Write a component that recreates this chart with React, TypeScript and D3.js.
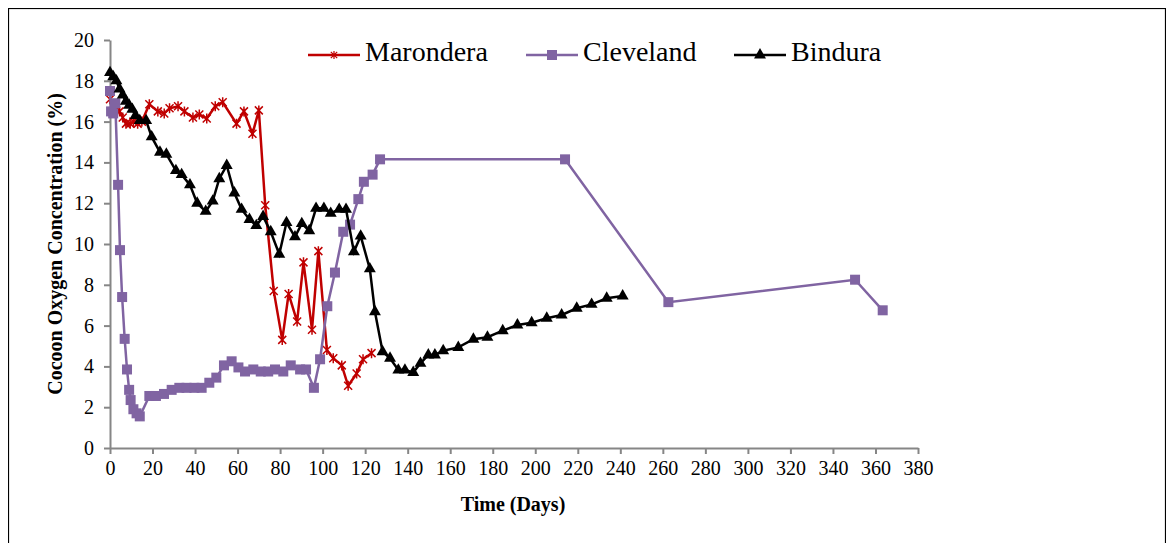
import { useEffect, useRef } from 'react'
import * as d3 from 'd3'

// Marondera
const maroDays = [0, 2, 4.5, 6, 7.5, 9.5, 11, 13, 15, 18.5, 22.5, 25.5, 28, 32, 35, 39, 42, 45.5, 49.5, 53, 59.5, 63, 67, 70, 73, 77, 81, 84, 88, 91, 95, 98, 102, 105, 109, 112, 116, 119, 123]
const maroValues = [17.1, 16.8, 16.5, 16.2, 15.9, 15.9, 16.0, 15.9, 16.0, 16.85, 16.5, 16.4, 16.65, 16.75, 16.5, 16.2, 16.35, 16.15, 16.75, 16.95, 15.9, 16.5, 15.4, 16.55, 11.9, 7.7, 5.3, 7.55, 6.2, 9.1, 5.8, 9.65, 4.8, 4.4, 4.05, 3.05, 3.65, 4.35, 4.65]

// Cleveland
const cleveDays = [0, 0.5, 1.5, 2.5, 3.8, 4.7, 5.7, 6.9, 8, 9, 9.7, 11, 12.5, 14, 18.5, 21.6, 25.4, 29, 32.6, 36, 39.7, 43.1, 46.7, 50, 53.6, 57.2, 60.4, 63.5, 67.4, 70.9, 74.4, 77.6, 81.5, 85, 89.4, 92.2, 95.9, 98.8, 102.2, 105.8, 109.7, 112.9, 116.8, 119.4, 123.5, 127, 214, 262.6, 350.4, 363.4]
const cleveValues = [17.5, 16.5, 16.4, 16.9, 12.9, 9.7, 7.4, 5.35, 3.85, 2.85, 2.35, 1.9, 1.7, 1.55, 2.55, 2.55, 2.65, 2.85, 2.95, 2.95, 2.95, 2.95, 3.2, 3.45, 4.05, 4.25, 3.95, 3.75, 3.85, 3.75, 3.75, 3.85, 3.75, 4.05, 3.85, 3.85, 2.95, 4.35, 6.95, 8.6, 10.6, 10.95, 12.2, 13.05, 13.4, 14.15, 14.15, 7.15, 8.25, 6.75]

// Bindura
const binDays = [0, 1.5, 3, 4.5, 6, 7.5, 9, 10.5, 12, 14, 17, 19.6, 23.5, 26.5, 31, 33.7, 37.6, 41, 45, 48.3, 51.4, 54.9, 58.5, 61.9, 65.6, 68.8, 72, 75.6, 79.6, 83, 87, 90.2, 93.7, 96.9, 100.6, 103.8, 107.8, 111, 114.7, 117.9, 122.2, 124.6, 128.2, 131.7, 135.6, 138.7, 142.6, 146, 149.7, 152.8, 156.7, 163.8, 170.9, 177.5, 184.7, 191.6, 198.3, 205.4, 212.4, 219.5, 226.5, 233.6, 241.1]
const binValues = [18.4, 18.2, 18.0, 17.6, 17.3, 17.0, 16.8, 16.6, 16.3, 16.05, 16.05, 15.25, 14.5, 14.4, 13.6, 13.4, 12.9, 12.0, 11.6, 12.1, 13.2, 13.85, 12.5, 11.7, 11.2, 10.9, 11.35, 10.6, 9.5, 11.05, 10.35, 11.0, 10.65, 11.75, 11.75, 11.5, 11.7, 11.7, 9.62, 10.39, 8.78, 6.68, 4.72, 4.4, 3.82, 3.82, 3.7, 4.15, 4.56, 4.56, 4.77, 4.93, 5.33, 5.43, 5.75, 6.03, 6.14, 6.36, 6.52, 6.85, 7.04, 7.34, 7.45]

const seriesNames = ['Marondera', 'Cleveland', 'Bindura']
const xTicks = d3.range(0, 381, 20)
const yTicks = d3.range(0, 21, 2)

const FONT = '"Liberation Serif", "Times New Roman", serif'

const App = () => {
  const chart = useRef<HTMLDivElement>(null)

  useEffect(() => {
    const el = chart.current
    if (!el) return
    d3.select(el).selectAll('*').remove()

    const width = 1158, height = 535
    const svg = d3.select(el)
      .append('svg')
      .attr('width', width)
      .attr('height', height)
      .style('display', 'block')
      .style('font-family', FONT)

    // outer frame (bottom edge falls outside the picture)
    svg.append('rect')
      .attr('x', 0.5).attr('y', 0.5)
      .attr('width', width - 1).attr('height', height + 40)
      .attr('fill', 'white').attr('stroke', '#000').attr('stroke-width', 1.2)

    const x = d3.scaleLinear().domain([0, 380]).range([102, 910])
    const y = d3.scaleLinear().domain([0, 20]).range([440, 32])

    // axes
    const gx = svg.append('g')
      .attr('transform', `translate(0,${y(0)})`)
      .call(d3.axisBottom(x).tickValues(xTicks).tickSize(6).tickPadding(7).tickSizeOuter(0))
    const gy = svg.append('g')
      .attr('transform', `translate(${x(0)},0)`)
      .call(d3.axisLeft(y).tickValues(yTicks).tickSize(6).tickPadding(10).tickSizeOuter(0))
    ;[gx, gy].forEach(g => {
      g.select('.domain').attr('stroke', '#868686').attr('stroke-width', 2)
      g.selectAll('.tick line').attr('stroke', '#868686').attr('stroke-width', 2)
      g.selectAll('.tick text')
        .attr('fill', '#000')
        .style('font-family', FONT)
        .style('font-size', '20px')
    })

    // axis titles
    svg.append('text')
      .attr('x', 505).attr('y', 503)
      .attr('text-anchor', 'middle')
      .style('font-family', FONT)
      .style('font-size', '20px').style('font-weight', 'bold')
      .text('Time (Days)')
    svg.append('text')
      .attr('transform', 'translate(47,236) rotate(-90)')
      .attr('dy', '0.35em')
      .attr('text-anchor', 'middle')
      .style('font-family', FONT)
      .style('font-size', '20px').style('font-weight', 'bold')
      .text('Cocoon Oxygen Concentration (%)')

    const line = d3.line<[number, number]>()
      .x(d => x(d[0]))
      .y(d => y(d[1]))

    const maro: [number, number][] = maroDays.map((d, i) => [d, maroValues[i]])
    const cleve: [number, number][] = cleveDays.map((d, i) => [d, cleveValues[i]])
    const bin: [number, number][] = binDays.map((d, i) => [d, binValues[i]])

    const star = 'M-4,-4L4,4M-4,4L4,-4M0,-5L0,5'
    const tri = d3.symbol().type(d3.symbolTriangle).size(62)()

    // Marondera
    svg.append('path').datum(maro)
      .attr('d', line).attr('fill', 'none')
      .attr('stroke', '#C00000').attr('stroke-width', 2.5)
    svg.append('g').selectAll('path')
      .data(maro).enter().append('path')
      .attr('transform', d => `translate(${x(d[0])},${y(d[1])})`)
      .attr('d', star).attr('fill', 'none')
      .attr('stroke', '#C00000').attr('stroke-width', 1.5)

    // Cleveland
    svg.append('path').datum(cleve)
      .attr('d', line).attr('fill', 'none')
      .attr('stroke', '#8064A2').attr('stroke-width', 2.5)
    svg.append('g').selectAll('rect')
      .data(cleve).enter().append('rect')
      .attr('x', d => x(d[0]) - 5).attr('y', d => y(d[1]) - 5)
      .attr('width', 10).attr('height', 10)
      .attr('fill', '#8064A2')

    // Bindura
    svg.append('path').datum(bin)
      .attr('d', line).attr('fill', 'none')
      .attr('stroke', '#000').attr('stroke-width', 2.5)
    svg.append('g').selectAll('path')
      .data(bin).enter().append('path')
      .attr('transform', d => `translate(${x(d[0])},${y(d[1])})`)
      .attr('d', tri).attr('fill', '#000')

    // legend
    const legendX = [300, 518, 726]
    const colors = ['#C00000', '#8064A2', '#000']
    seriesNames.forEach((name, i) => {
      const g = svg.append('g').attr('transform', `translate(${legendX[i]},47)`)
      g.append('line').attr('x1', 0).attr('x2', 52)
        .attr('stroke', colors[i]).attr('stroke-width', 2.5)
      if (i === 0) {
        g.append('path').attr('transform', 'translate(26,0) scale(0.8)')
          .attr('d', star).attr('fill', 'none').attr('stroke', colors[i]).attr('stroke-width', 1.5)
      } else if (i === 1) {
        g.append('rect').attr('x', 21).attr('y', -5).attr('width', 10).attr('height', 10).attr('fill', colors[i])
      } else {
        g.append('path').attr('transform', 'translate(26,0)').attr('d', tri).attr('fill', colors[i])
      }
      g.append('text').attr('x', 57).attr('y', 6)
        .style('font-family', FONT)
        .style('font-size', '28px')
        .text(name)
    })
  }, [])

  return (
    <>
      <div ref={chart} className='chart'></div>
    </>
  )
}

export default App
